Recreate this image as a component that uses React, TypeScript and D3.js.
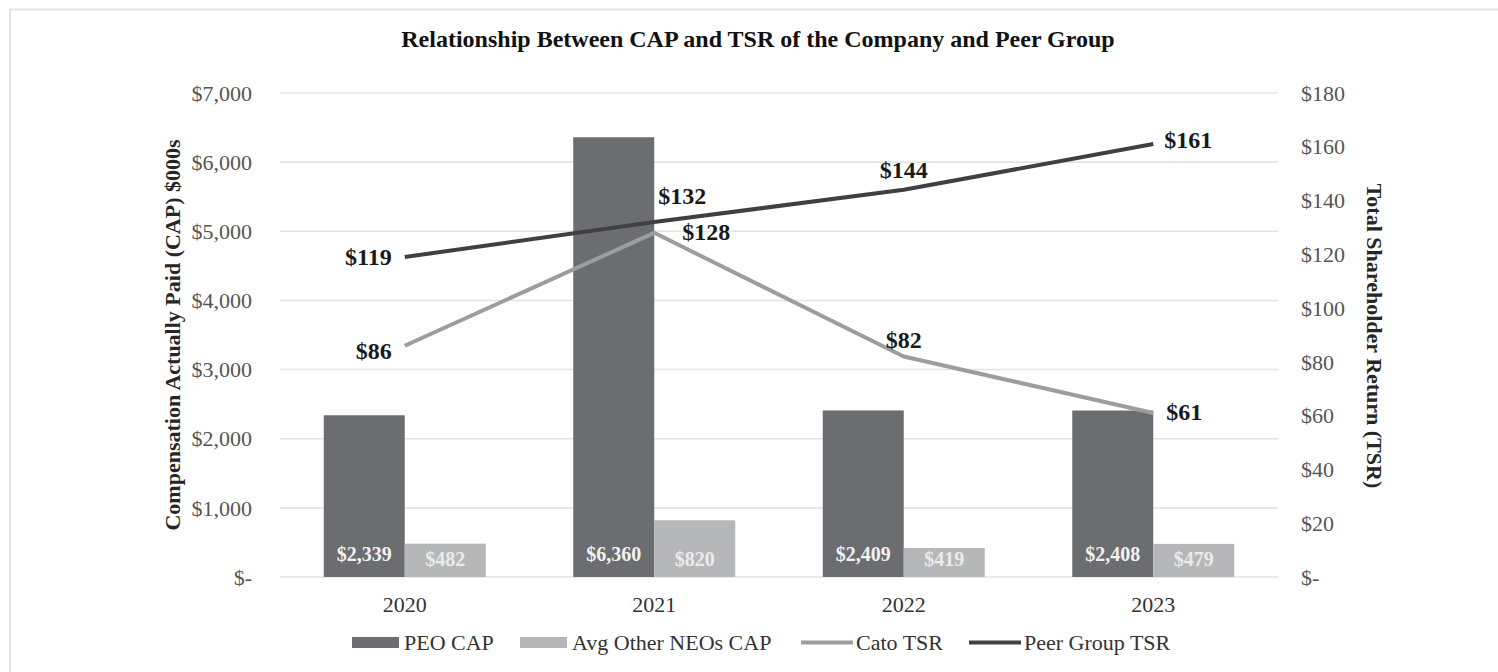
import React from "react";
import * as d3 from "d3";

const years = ["2020", "2021", "2022", "2023"];
const peoCap = [2339, 6360, 2409, 2408];
const avgNeoCap = [482, 820, 419, 479];
const catoTsr = [86, 128, 82, 61];
const peerTsr = [119, 132, 144, 161];
const leftTicks = [0, 1000, 2000, 3000, 4000, 5000, 6000, 7000];
const rightTicks = [0, 20, 40, 60, 80, 100, 120, 140, 160, 180];
const legendNames = ["PEO CAP", "Avg Other NEOs CAP", "Cato TSR", "Peer Group TSR"];

const W = 1498;
const H = 672;
const FONT = "'Times New Roman', 'Liberation Serif', serif";
const C_PEO = "#6c6d70";
const C_AVG = "#b6b7b9";
const C_CATO = "#9c9d9f";
const C_PEER = "#404041";

const fmt = (v: number) => (v === 0 ? "$-" : "$" + d3.format(",")(v));

export default function App() {
  const x = d3.scaleBand<string>().domain(years).range([280, 1278]).padding(0);
  const bw = x.bandwidth();
  const cx = (y: string) => (x(y) as number) + bw / 2;
  const barW = 81;
  const yL = d3.scaleLinear().domain([0, 7000]).range([577, 93]);
  const yR = d3.scaleLinear().domain([0, 180]).range([577, 93]);

  const line = d3
    .line<number>()
    .x((_, i) => cx(years[i]))
    .y((d) => yR(d));

  // label placement per series: [dx, dy, anchor]
  const peerLab: [number, number, string][] = [
    [-13, 8, "end"],
    [4, -18, "start"],
    [0, -12, "middle"],
    [11, 4, "start"],
  ];
  const catoLab: [number, number, string][] = [
    [-13, 13, "end"],
    [28, 7, "start"],
    [0, -9, "middle"],
    [13, 7, "start"],
  ];

  const legendX = [352, 520, 801, 969];

  return (
    <svg
      width={W}
      height={H}
      style={{ position: "absolute", left: 0, top: 0, background: "#fff" }}
      fontFamily={FONT}
    >
      <rect x={0} y={0} width={W} height={H} fill="#fff" />
      <rect x={10} y={9.5} width={W + 20} height={H + 20} fill="none" stroke="#e3e3e3" strokeWidth={2} />

      <text x={758} y={47} textAnchor="middle" fontSize={24} fontWeight="bold" fill="#111">
        Relationship Between CAP and TSR of the Company and Peer Group
      </text>

      {/* gridlines */}
      {leftTicks.map((t) => (
        <line key={"g" + t} x1={280} x2={1278} y1={yL(t)} y2={yL(t)} stroke="#e4e4e4" strokeWidth={1.6} />
      ))}

      {/* left ticks */}
      {leftTicks.map((t) => (
        <text key={"l" + t} x={252} y={yL(t)} dy="0.35em" textAnchor="end" fontSize={22} fill="#555">
          {fmt(t)}
        </text>
      ))}
      {/* right ticks */}
      {rightTicks.map((t) => (
        <text key={"r" + t} x={1301} y={yR(t)} dy="0.35em" textAnchor="start" fontSize={22} fill="#555">
          {fmt(t)}
        </text>
      ))}

      {/* axis titles */}
      <text
        transform={`translate(172,335) rotate(-90)`}
        textAnchor="middle"
        dy="0.35em"
        fontSize={22}
        fontWeight="bold"
        fill="#262626"
      >
        Compensation Actually Paid (CAP) $000s
      </text>
      <text
        transform={`translate(1375,336) rotate(90)`}
        textAnchor="middle"
        dy="0.35em"
        fontSize={22}
        fontWeight="bold"
        fill="#262626"
      >
        Total Shareholder Return (TSR)
      </text>

      {/* bars */}
      {years.map((y, i) => (
        <g key={"b" + y}>
          <rect x={cx(y) - barW} y={yL(peoCap[i])} width={barW} height={yL(0) - yL(peoCap[i])} fill={C_PEO} />
          <rect x={cx(y)} y={yL(avgNeoCap[i])} width={barW} height={yL(0) - yL(avgNeoCap[i])} fill={C_AVG} />
          <text x={cx(y) - barW / 2} y={561} textAnchor="middle" fontSize={20} fontWeight="bold" fill="#f2f2f2">
            {fmt(peoCap[i])}
          </text>
          <text x={cx(y) + barW / 2} y={566} textAnchor="middle" fontSize={20} fontWeight="bold" fill="#ebebeb">
            {fmt(avgNeoCap[i])}
          </text>
        </g>
      ))}

      {/* lines */}
      <path d={line(catoTsr) as string} fill="none" stroke={C_CATO} strokeWidth={4} strokeLinejoin="round" />
      <path d={line(peerTsr) as string} fill="none" stroke={C_PEER} strokeWidth={4} strokeLinejoin="round" />

      {/* line labels */}
      {peerTsr.map((v, i) => (
        <text
          key={"pl" + i}
          x={cx(years[i]) + peerLab[i][0]}
          y={yR(v) + peerLab[i][1]}
          textAnchor={peerLab[i][2]}
          fontSize={24}
          fontWeight="bold"
          fill="#1a1a1a"
        >
          {fmt(v)}
        </text>
      ))}
      {catoTsr.map((v, i) => (
        <text
          key={"cl" + i}
          x={cx(years[i]) + catoLab[i][0]}
          y={yR(v) + catoLab[i][1]}
          textAnchor={catoLab[i][2]}
          fontSize={24}
          fontWeight="bold"
          fill="#1a1a1a"
        >
          {fmt(v)}
        </text>
      ))}

      {/* x labels */}
      {years.map((y) => (
        <text key={"x" + y} x={cx(y)} y={612} textAnchor="middle" fontSize={22} fill="#333">
          {y}
        </text>
      ))}

      {/* legend */}
      {legendNames.map((n, i) => (
        <g key={"lg" + i}>
          {i < 2 ? (
            <rect x={legendX[i]} y={637} width={47} height={11} fill={i === 0 ? C_PEO : C_AVG} />
          ) : (
            <line x1={legendX[i]} x2={legendX[i] + 52} y1={642.5} y2={642.5} stroke={i === 2 ? C_CATO : C_PEER} strokeWidth={4} />
          )}
          <text x={legendX[i] + (i < 2 ? 52 : 55)} y={650} fontSize={22} fill="#333">
            {n}
          </text>
        </g>
      ))}
    </svg>
  );
}
